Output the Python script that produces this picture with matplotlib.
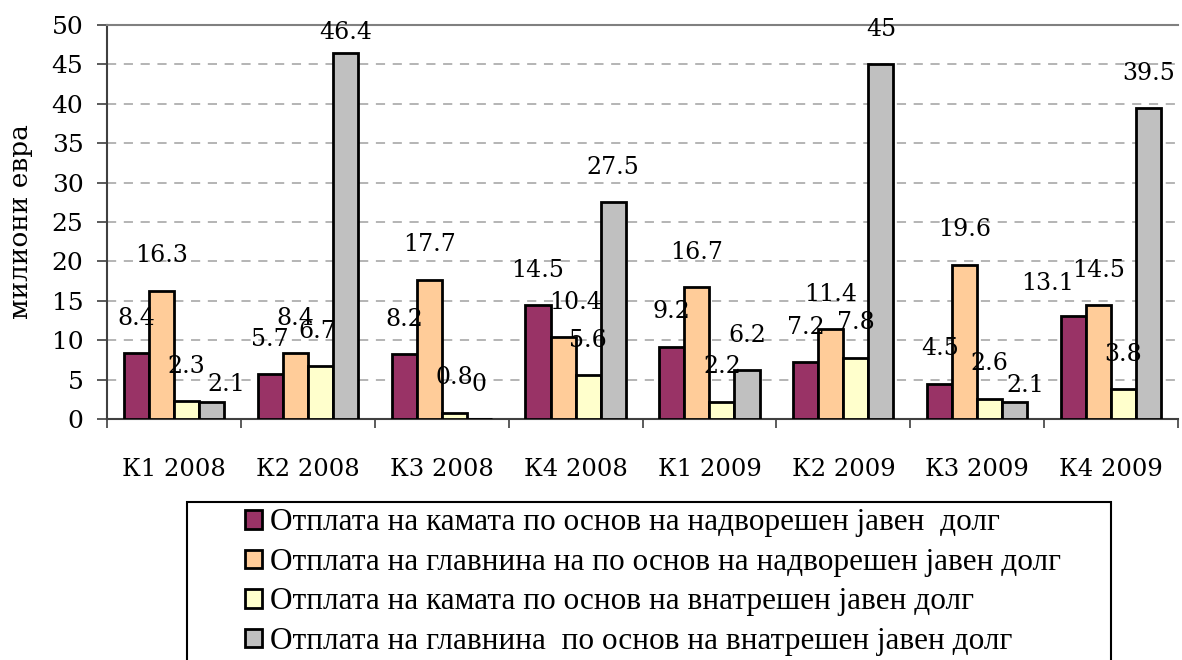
import matplotlib
matplotlib.use("Agg")
import matplotlib.pyplot as plt
import numpy as np
from matplotlib.patches import Rectangle

categories = ["К1 2008", "К2 2008", "К3 2008", "К4 2008",
              "К1 2009", "К2 2009", "К3 2009", "К4 2009"]
series_names = [
    "Отплата на камата по основ на надворешен јавен  долг",
    "Отплата на главнина на по основ на надворешен јавен долг",
    "Отплата на камата по основ на внатрешен јавен долг",
    "Отплата на главнина  по основ на внатрешен јавен долг",
]
ext_interest = [8.4, 5.7, 8.2, 14.5, 9.2, 7.2, 4.5, 13.1]
ext_principal = [16.3, 8.4, 17.7, 10.4, 16.7, 11.4, 19.6, 14.5]
dom_interest = [2.3, 6.7, 0.8, 5.6, 2.2, 7.8, 2.6, 3.8]
dom_principal = [2.1, 46.4, 0, 27.5, 6.2, 45, 2.1, 39.5]
series = [ext_interest, ext_principal, dom_interest, dom_principal]
colors = ["#993366", "#FFCC99", "#FFFFCC", "#C0C0C0"]
y_ticks = [0, 5, 10, 15, 20, 25, 30, 35, 40, 45, 50]
y_label = "милиони евра"

# manual label nudges (points) as in the original chart: (series, category) -> (dx, dy)
label_nudge = {(3, 0): (11, -12), (3, 1): (0, -10), (1, 3): (9, 0),
               (3, 6): (8, -13), (0, 7): (-19, -2), (2, 1): (-2, 0)}

SERIF = ["DejaVu Serif"]
plt.rcParams["font.family"] = SERIF

fig = plt.figure(figsize=(11.82, 6.6), dpi=100)
ax = fig.add_axes([107/1182, 1-419/660, (1178-107)/1182, (419-25)/660])

x = np.arange(len(categories))
bw = 0.187
for i, (vals, col) in enumerate(zip(series, colors)):
    offs = (i - 1.5) * bw
    bars = ax.bar(x + offs, vals, bw, color=col, edgecolor="black",
                  linewidth=2, label=series_names[i], zorder=3)
    for j, (b, v) in enumerate(zip(bars, vals)):
        dx, dy = label_nudge.get((i, j), (0, 0))
        ax.annotate(f"{v:g}", (b.get_x() + b.get_width()/2, b.get_height()),
                    xytext=(dx, 25 + dy), textcoords="offset points",
                    ha="center", va="center", fontsize=17, zorder=4,
                    annotation_clip=False)

ax.set_xlim(-0.5, len(categories) - 0.5)
ax.set_ylim(0, 50)
ax.set_yticks(y_ticks)
ax.set_yticklabels([str(t) for t in y_ticks], fontsize=18)
ax.tick_params(axis="y", direction="out", length=7, width=1.2, color="#404040", pad=10)

ax.set_xticks(x)
ax.set_xticklabels(categories, fontsize=17.5)
ax.set_xticks(np.arange(len(categories) + 1) - 0.5, minor=True)
ax.tick_params(axis="x", which="major", length=0, pad=28)
ax.tick_params(axis="x", which="minor", direction="out", length=6.5, width=1.2, color="#404040")

for yv in y_ticks[1:-1]:
    ax.axhline(yv, color="#A0A0A0", linestyle=(0, (6, 5)), linewidth=1.1, zorder=1)

ax.spines["right"].set_visible(False)
ax.spines["top"].set_color("#808080")
ax.spines["top"].set_linewidth(1.5)
for s in ["left", "bottom"]:
    ax.spines[s].set_color("#404040")
    ax.spines[s].set_linewidth(1.5)

ax.set_ylabel(y_label, fontsize=19)
ax.yaxis.set_label_coords(-0.069, 0.5)

# legend frame
fig.patches.append(Rectangle((187/1182, -0.05), (1111-187)/1182, 1-502/660+0.05,
                             transform=fig.transFigure, facecolor="white",
                             edgecolor="black", linewidth=1.5, zorder=0))
handles, labels = ax.get_legend_handles_labels()
leg = fig.legend(handles, labels, loc="upper left",
                 bbox_to_anchor=(239/1182, 1-502/660), frameon=False,
                 prop={"family": ["Liberation Serif"], "size": 22.5},
                 handlelength=0.54, handleheight=0.54,
                 handletextpad=0.26, labelspacing=0.34, borderpad=0.2,
                 borderaxespad=0)

fig.savefig("out.png", dpi=100)
